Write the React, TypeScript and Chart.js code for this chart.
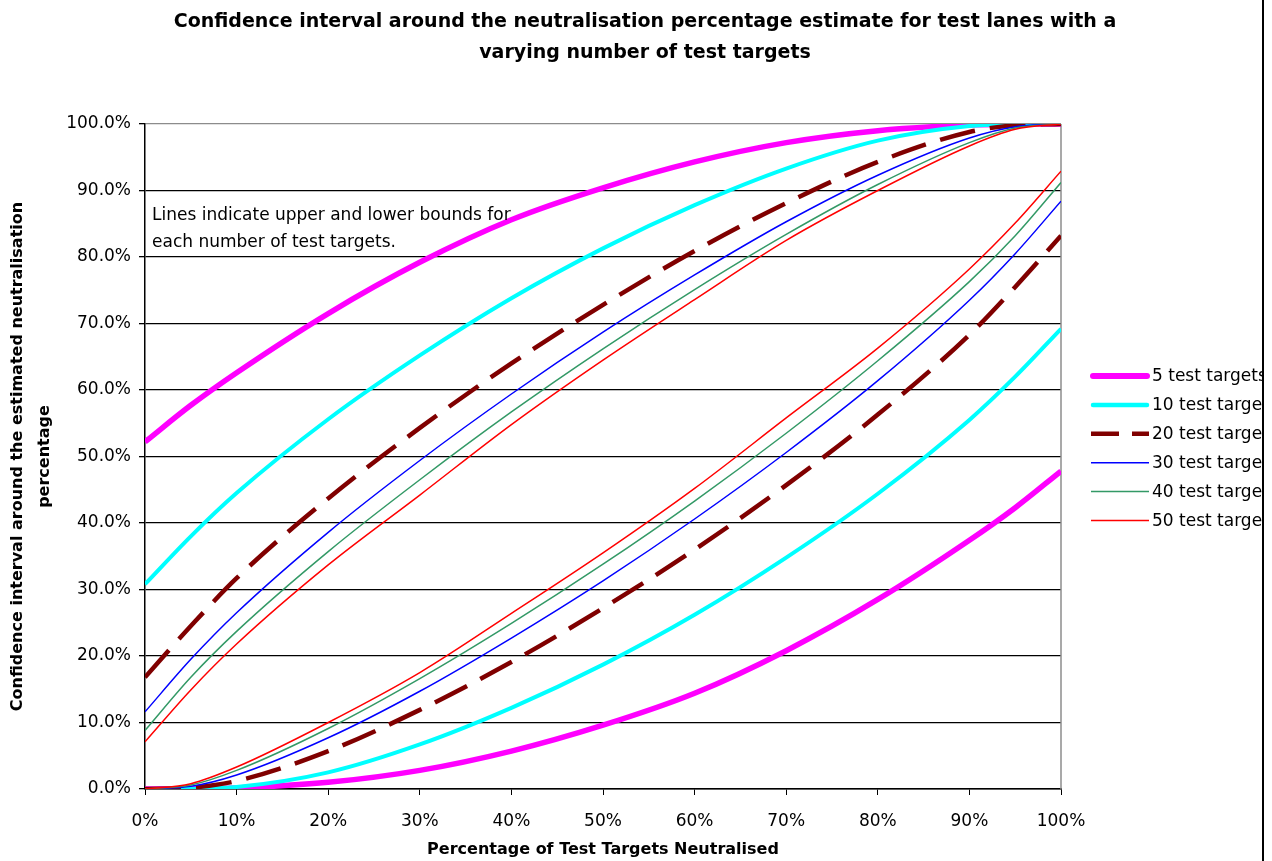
import React, { useEffect, useRef } from "react";
import { Chart, registerables } from "chart.js";

Chart.register(...registerables);

// X positions: percentage of test targets neutralised
const xPercent = [0, 5, 10, 20, 30, 40, 50, 60, 70, 80, 90, 95, 100];

// Upper / lower bounds (%)
const upper5 = [52.2, 57.7, 62.6, 71.5, 79.2, 85.6, 90.4, 94.3, 97.2, 99.0, 99.85, 99.98, 100];
const lower5 = [0, 0.02, 0.15, 1.0, 2.8, 5.7, 9.6, 14.4, 20.8, 28.5, 37.4, 42.3, 47.8];

const upper10 = [30.8, 38.0, 44.5, 55.6, 65.2, 73.8, 81.3, 87.8, 93.3, 97.5, 99.7, 99.95, 100];
const lower10 = [0, 0.05, 0.3, 2.5, 6.7, 12.2, 18.7, 26.2, 34.8, 44.4, 55.5, 62.0, 69.2];

const upper20 = [16.8, 24.5, 31.7, 43.7, 54.3, 64.0, 72.8, 80.9, 88.1, 94.3, 98.8, 99.8, 100];
const lower20 = [0, 0.2, 1.2, 5.7, 11.9, 19.1, 27.2, 36.0, 45.7, 56.3, 68.3, 75.5, 83.2];

const upper30 = [11.6, 19.5, 26.5, 38.6, 49.4, 59.4, 68.7, 77.3, 85.3, 92.3, 97.9, 99.6, 100];
const lower30 = [0, 0.4, 2.1, 7.7, 14.7, 22.7, 31.3, 40.6, 50.6, 61.4, 73.5, 80.5, 88.4];

const upper40 = [8.8, 16.8, 23.7, 35.7, 46.5, 56.7, 66.2, 75.1, 83.4, 90.9, 97.2, 99.4, 100];
const lower40 = [0, 0.6, 2.8, 9.1, 16.6, 24.9, 33.8, 43.3, 53.5, 64.4, 76.3, 83.2, 91.2];

const upper50 = [7.1, 14.9, 21.8, 33.7, 44.2, 54.8, 64.5, 73.6, 82.5, 90.0, 96.7, 99.2, 100];
const lower50 = [0, 0.8, 3.3, 10.0, 17.5, 26.4, 35.5, 45.2, 55.8, 66.3, 78.2, 85.1, 92.9];

const seriesNames = [
  "5 test targets",
  "10 test targets",
  "20 test targets",
  "30 test targets",
  "40 test targets",
  "50 test targets",
];

const titleLines = [
  "Confidence interval around the neutralisation percentage estimate for test lanes with a",
  "varying number of test targets",
];
const yTitleLines = ["Confidence interval around the estimated neutralisation", "percentage"];
const xTitle = "Percentage of Test Targets Neutralised";
const noteLines = ["Lines indicate upper and lower bounds for", "each number of test targets."];

const FONT = "'DejaVu Sans', sans-serif";

const groups = [
  { name: seriesNames[0], upper: upper5, lower: lower5, color: "#FF00FF", width: 5.5, dash: [] as number[] },
  { name: seriesNames[1], upper: upper10, lower: lower10, color: "#00FFFF", width: 4, dash: [] as number[] },
  { name: seriesNames[2], upper: upper20, lower: lower20, color: "#800000", width: 4.5, dash: [36, 15] },
  { name: seriesNames[3], upper: upper30, lower: lower30, color: "#0000FF", width: 1.5, dash: [] as number[] },
  { name: seriesNames[4], upper: upper40, lower: lower40, color: "#339966", width: 1.5, dash: [] as number[] },
  { name: seriesNames[5], upper: upper50, lower: lower50, color: "#FF0000", width: 1.5, dash: [] as number[] },
];

export default function App() {
  const canvasRef = useRef<HTMLCanvasElement | null>(null);

  useEffect(() => {
    const canvas = canvasRef.current;
    if (!canvas) return;

    const datasets: any[] = [];
    groups.forEach((g, gi) => {
      [g.upper, g.lower].forEach((arr, k) => {
        datasets.push({
          label: g.name + (k === 0 ? " upper" : " lower"),
          data: xPercent.map((x, i) => ({ x, y: arr[i] })),
          borderColor: g.color,
          backgroundColor: g.color,
          borderWidth: g.width,
          borderDash: g.dash,
          borderCapStyle: "butt",
          pointRadius: 0,
          fill: false,
          cubicInterpolationMode: "monotone",
          order: groups.length - gi,
        });
      });
    });

    const extras = {
      id: "extras",
      beforeDatasetsDraw(chart: any) {
        const { ctx, chartArea } = chart;
        ctx.save();
        ctx.strokeStyle = "#8c8c8c";
        ctx.lineWidth = 1.5;
        ctx.beginPath();
        ctx.moveTo(chartArea.right, chartArea.top);
        ctx.lineTo(chartArea.right, chartArea.bottom);
        ctx.stroke();
        ctx.restore();
      },
      afterDraw(chart: any) {
        const { ctx, chartArea } = chart;
        ctx.save();
        // title
        ctx.fillStyle = "#000";
        ctx.font = `bold 19px ${FONT}`;
        ctx.textAlign = "center";
        ctx.textBaseline = "middle";
        titleLines.forEach((t, i) => ctx.fillText(t, chartArea.left + 500, 22 + i * 31));

        // note text
        ctx.font = `17px ${FONT}`;
        ctx.textAlign = "left";
        ctx.textBaseline = "middle";
        noteLines.forEach((t, i) => ctx.fillText(t, chartArea.left + 7, chartArea.top + 92 + i * 27));

        // legend
        const lx0 = chartArea.right + 30;
        const lx1 = chartArea.right + 88;
        const ly0 = 376;
        const step = 28.9;
        groups.forEach((g, i) => {
          const y = ly0 + i * step;
          ctx.save();
          ctx.strokeStyle = g.color;
          ctx.lineWidth = g.width + (i < 2 ? 0.5 : 0);
          ctx.lineCap = i < 2 ? "round" : "butt";
          ctx.setLineDash(i === 2 ? [28, 13] : []);
          ctx.beginPath();
          ctx.moveTo(lx0 + (i < 2 ? 2 : 0), y);
          ctx.lineTo(lx1 - (i < 2 ? 2 : 0), y);
          ctx.stroke();
          ctx.restore();
          ctx.fillStyle = "#000";
          ctx.font = `17px ${FONT}`;
          ctx.textAlign = "left";
          ctx.textBaseline = "middle";
          ctx.fillText(g.name, lx1 + 3, y + 1);
        });
        ctx.restore();
      },
    };

    const chart = new Chart(canvas, {
      type: "line",
      data: { datasets },
      plugins: [extras],
      options: {
        animation: false,
        responsive: false,
        maintainAspectRatio: false,
        layout: { padding: { left: 0, right: 201, top: 124, bottom: 0 } },
        plugins: {
          legend: { display: false },
          tooltip: { enabled: false },
          title: { display: false },
        },
        scales: {
          x: {
            type: "linear",
            min: 0,
            max: 100,
            afterFit: (scale: any) => {
              scale.height = 72;
            },
            ticks: {
              stepSize: 10,
              color: "#000",
              font: { family: FONT, size: 17 },
              padding: 16,
              maxRotation: 0,
              callback: (v: any) => `${v}%`,
            },
            grid: {
              drawOnChartArea: false,
              drawTicks: true,
              tickLength: 6,
              tickColor: "#000",
            },
            border: { display: true, color: "#000", width: 1.5 },
            title: {
              display: true,
              text: xTitle,
              color: "#000",
              font: { family: FONT, size: 16, weight: "bold", lineHeight: 1.2 },
              padding: { top: 0, bottom: 2 },
            },
          },
          y: {
            type: "linear",
            min: 0,
            max: 100,
            afterFit: (scale: any) => {
              scale.width = 145;
            },
            ticks: {
              stepSize: 10,
              color: "#000",
              font: { family: FONT, size: 17 },
              padding: 8,
              callback: (v: any) => `${Number(v).toFixed(1)}%`,
            },
            grid: {
              color: (c: any) => (c.tick && c.tick.value === 100 ? "#8c8c8c" : "#000"),
              lineWidth: 1.3,
              tickLength: 6,
              tickColor: "#000",
            },
            border: { display: true, color: "#000", width: 1.5 },
            title: {
              display: true,
              text: yTitleLines,
              color: "#000",
              font: { family: FONT, size: 16, weight: "bold", lineHeight: 1.69 },
              padding: { top: 4.5, bottom: 0 },
            },
          },
        },
      } as any,
    });

    return () => {
      chart.destroy();
    };
  }, []);

  return (
    <div
      style={{
        position: "absolute",
        left: 0,
        top: 0,
        width: 1262,
        height: 861,
        borderRight: "2px solid #000",
        background: "#fff",
        overflow: "hidden",
      }}
    >
      <canvas ref={canvasRef} width={1262} height={861} style={{ display: "block" }} />
    </div>
  );
}
